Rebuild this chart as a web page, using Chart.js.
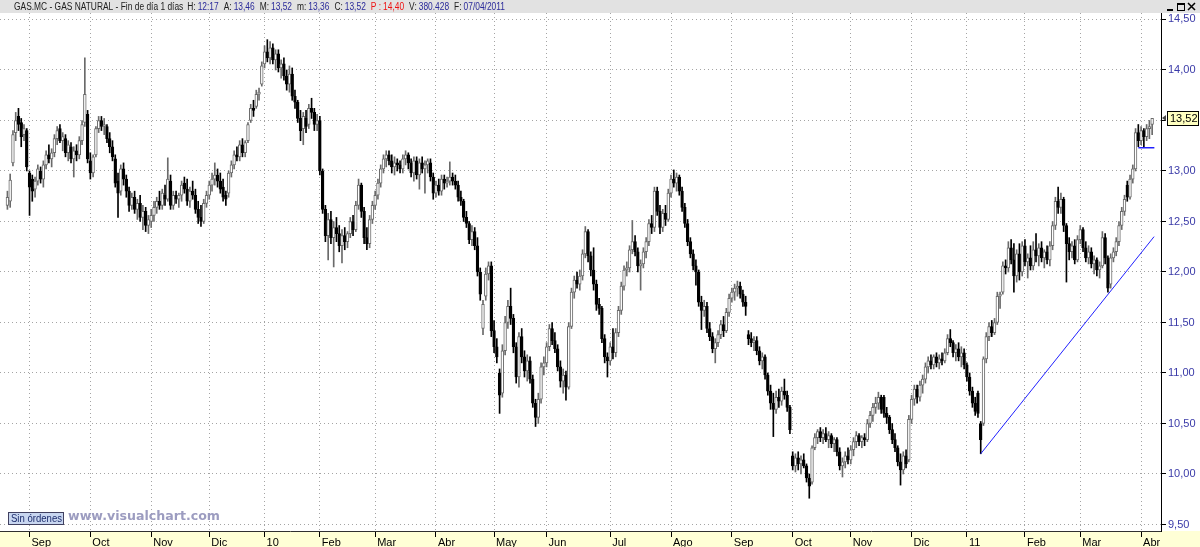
<!DOCTYPE html>
<html>
<head>
<meta charset="utf-8">
<title>GAS.MC - GAS NATURAL</title>
<script src="https://cdn.jsdelivr.net/npm/chart.js@4.4.1/dist/chart.umd.min.js"></script>
<style>
    html, body { margin: 0; padding: 0; background: #fff; }
    #wrap { width: 1200px; height: 547px; position: relative; }
</style>
</head>
<body>
<div id="wrap"><canvas id="chart"></canvas></div>
<script>
// daily candles, Aug 2009 .. Apr 2011, one month per line
const opens = [
    12.66,12.70,13.08,13.38,13.54,13.48,13.36,13.40,
    12.98,12.92,12.82,12.90,13.00,12.92,13.06,13.16,13.12,13.18,13.32,13.42,13.30,13.32,13.18,13.24,13.12,13.20,13.16,13.30,13.48,13.56,
    13.10,12.98,13.16,13.42,13.50,13.44,13.44,13.32,13.24,13.12,12.90,12.80,13.02,12.92,12.80,12.66,12.74,12.62,12.68,12.54,12.60,12.46,
    12.50,12.56,12.64,12.70,12.66,12.76,12.72,12.90,12.66,12.76,12.72,12.76,12.88,12.82,12.70,12.80,12.76,12.62,12.54,12.50,12.68,
    12.76,12.86,12.92,12.96,12.90,12.84,12.76,12.78,12.98,13.06,13.16,13.14,13.26,13.18,13.30,13.50,13.62,13.64,13.76,13.86,
    14.06,14.18,14.12,14.22,14.10,14.16,14.02,14.06,13.94,13.86,13.96,13.74,13.68,13.52,13.42,13.52,13.46,13.62,13.58,13.46,
    13.50,13.00,12.62,12.36,12.52,12.34,12.44,12.38,12.26,12.36,12.30,12.38,12.50,12.42,12.66,12.86,12.60,12.34,12.28,12.52,
    12.66,12.76,12.88,13.02,13.12,13.16,13.10,13.04,13.08,13.06,13.02,13.12,13.16,13.08,12.98,13.10,12.96,13.08,13.02,13.06,13.08,12.94,
    12.78,12.86,12.80,12.92,12.88,12.90,12.94,12.90,12.86,12.74,12.70,12.54,12.48,12.32,12.40,12.26,12.00,11.44,11.76,11.98,12.06,
    11.42,11.26,11.00,10.80,11.22,11.50,11.66,11.54,11.26,10.96,11.36,11.16,11.02,11.12,10.94,10.70,10.56,10.74,11.06,
    11.10,11.26,11.44,11.32,11.24,11.06,10.92,10.98,10.86,11.46,11.80,11.92,11.88,11.96,12.18,12.40,12.16,12.02,11.88,11.68,11.64,11.34,11.16,
    11.12,11.26,11.20,11.40,11.62,11.86,12.02,12.04,12.22,12.30,12.20,12.06,12.08,12.20,12.30,12.48,12.44,12.80,12.60,12.44,12.58,12.52,
    12.78,12.92,12.88,12.94,12.80,12.64,12.48,12.30,12.18,12.06,12.00,11.70,11.62,11.66,11.44,11.36,11.24,11.30,11.38,11.48,11.42,11.60,
    11.74,11.80,11.84,11.86,11.78,11.70,11.38,11.34,11.30,11.32,11.22,11.12,11.16,10.98,10.82,10.70,10.64,10.76,10.72,10.82,10.78,10.66,
    10.18,10.08,10.16,10.10,10.14,10.08,9.96,9.92,10.26,10.36,10.42,10.36,10.40,10.34,10.38,10.30,10.34,10.22,10.08,10.12,10.18,
    10.14,10.24,10.32,10.38,10.32,10.36,10.34,10.50,10.58,10.66,10.70,10.76,10.76,10.60,10.56,10.44,10.34,10.26,10.12,10.04,10.18,10.14,
    10.54,10.74,10.84,10.76,10.88,10.94,11.06,11.12,11.08,11.16,11.10,11.14,11.12,11.20,11.34,11.30,11.20,11.24,11.16,11.20,
    11.08,10.96,10.82,10.70,10.80,10.50,10.50,11.14,11.36,11.46,11.40,11.50,11.76,11.80,12.06,12.04,12.24,12.12,11.96,12.18,12.00,
    12.26,12.10,12.14,12.06,12.22,12.16,12.24,12.14,12.20,12.12,12.26,12.46,12.70,12.64,12.72,12.46,12.28,12.20,12.26,12.12,
    12.32,12.42,12.24,12.14,12.20,12.08,12.12,12.02,12.06,12.34,12.14,11.88,12.14,12.20,12.30,12.46,12.60,12.86,12.74,12.92,13.02,13.38,
    13.30,13.40,13.34,13.42,13.46,
]
const highs = [
    12.80,12.97,13.40,13.58,13.62,13.52,13.46,13.42,
    13.00,12.96,12.94,13.06,13.04,13.10,13.20,13.26,13.22,13.36,13.44,13.46,13.38,13.36,13.30,13.28,13.24,13.26,13.34,13.50,14.12,13.60,
    13.18,13.16,13.44,13.54,13.54,13.52,13.46,13.38,13.30,13.16,12.98,13.06,13.08,12.96,12.84,12.78,12.80,12.72,12.76,12.66,12.64,12.56,
    12.62,12.70,12.74,12.80,12.82,12.86,13.13,12.96,12.80,12.80,12.78,12.90,12.94,12.92,12.84,12.90,12.82,12.70,12.66,12.72,12.80,
    12.90,12.98,13.08,13.02,12.98,12.92,12.80,13.00,13.10,13.20,13.24,13.30,13.32,13.30,13.48,13.66,13.70,13.80,13.82,14.08,
    14.24,14.30,14.28,14.26,14.20,14.20,14.10,14.12,14.00,14.04,14.02,13.80,13.70,13.60,13.58,13.60,13.66,13.72,13.62,13.56,
    13.54,13.02,12.66,12.58,12.60,12.50,12.54,12.46,12.42,12.44,12.40,12.54,12.56,12.70,12.92,12.88,12.64,12.44,12.56,12.70,
    12.80,12.92,13.06,13.16,13.20,13.20,13.16,13.14,13.12,13.10,13.16,13.20,13.18,13.12,13.14,13.14,13.12,13.14,13.10,13.12,13.12,12.98,
    12.90,12.92,12.96,12.96,12.94,13.09,12.98,12.96,12.90,12.80,12.72,12.60,12.50,12.46,12.44,12.34,12.04,11.72,12.04,12.10,12.10,
    11.52,11.34,11.04,11.28,11.56,11.72,11.84,11.58,11.30,11.40,11.44,11.22,11.18,11.16,10.98,10.74,10.80,11.10,11.16,
    11.30,11.48,11.50,11.40,11.28,11.12,11.04,11.02,11.50,11.84,11.96,12.00,12.02,12.22,12.45,12.42,12.20,12.24,11.92,11.74,11.66,11.38,11.20,
    11.30,11.44,11.44,11.66,11.90,12.06,12.10,12.26,12.51,12.36,12.24,12.12,12.24,12.34,12.52,12.56,12.84,12.84,12.66,12.62,12.66,12.82,
    12.96,13.01,12.98,12.96,12.84,12.68,12.52,12.34,12.22,12.12,12.02,11.76,11.72,11.70,11.50,11.40,11.34,11.42,11.52,11.56,11.64,11.78,
    11.84,11.88,11.91,11.90,11.82,11.76,11.42,11.40,11.36,11.36,11.26,11.20,11.18,11.00,10.88,10.80,10.82,10.84,10.86,10.94,10.82,10.68,
    10.22,10.20,10.22,10.18,10.20,10.10,10.00,10.28,10.40,10.44,10.46,10.44,10.46,10.42,10.40,10.36,10.36,10.26,10.16,10.22,10.26,
    10.28,10.36,10.42,10.40,10.38,10.40,10.54,10.62,10.70,10.76,10.81,10.78,10.78,10.66,10.58,10.50,10.40,10.28,10.20,10.22,10.24,10.58,
    10.78,10.88,10.88,10.92,10.98,11.10,11.16,11.18,11.18,11.20,11.18,11.20,11.24,11.38,11.43,11.32,11.28,11.30,11.26,11.24,
    11.10,11.00,10.86,10.76,10.82,10.52,11.16,11.40,11.50,11.52,11.54,11.80,11.80,12.10,12.12,12.30,12.32,12.28,12.22,12.28,12.30,
    12.32,12.18,12.26,12.30,12.38,12.28,12.30,12.22,12.26,12.30,12.50,12.74,12.84,12.78,12.74,12.48,12.34,12.30,12.32,12.36,
    12.46,12.44,12.30,12.26,12.24,12.16,12.14,12.10,12.40,12.38,12.16,12.18,12.24,12.34,12.50,12.64,12.76,12.90,12.96,13.06,13.42,13.46,
    13.44,13.42,13.46,13.50,13.52,
]
const lows = [
    12.62,12.64,13.05,13.30,13.40,13.24,13.30,13.00,
    12.56,12.70,12.74,12.86,12.88,12.84,13.02,13.08,13.04,13.14,13.26,13.28,13.20,13.14,13.10,13.08,12.94,13.10,13.12,13.26,13.44,13.08,
    12.92,12.94,13.14,13.38,13.40,13.36,13.28,13.18,13.10,12.84,12.54,12.76,12.86,12.74,12.60,12.62,12.58,12.52,12.50,12.42,12.40,12.38,
    12.44,12.50,12.58,12.62,12.62,12.66,12.70,12.62,12.62,12.68,12.64,12.70,12.78,12.66,12.64,12.72,12.58,12.48,12.45,12.48,12.64,
    12.72,12.80,12.86,12.84,12.78,12.70,12.66,12.74,12.94,13.02,13.10,13.10,13.14,13.14,13.28,13.48,13.54,13.62,13.70,13.84,
    14.02,14.08,14.06,14.06,14.00,13.98,13.92,13.90,13.80,13.78,13.70,13.62,13.48,13.30,13.26,13.38,13.42,13.52,13.40,13.40,
    12.96,12.58,12.30,12.12,12.28,12.05,12.30,12.20,12.09,12.22,12.24,12.34,12.36,12.40,12.62,12.54,12.28,12.22,12.24,12.48,
    12.62,12.72,12.84,12.98,13.04,13.06,12.98,12.96,13.00,12.98,12.98,13.06,13.02,12.94,12.90,12.92,12.82,12.98,12.78,12.98,12.90,12.72,
    12.74,12.76,12.76,12.82,12.84,12.86,12.86,12.82,12.70,12.66,12.50,12.44,12.28,12.26,12.22,11.96,11.72,11.38,11.72,11.92,11.36,
    11.20,11.10,10.60,10.76,11.18,11.44,11.48,11.20,10.90,10.86,11.10,10.96,10.92,10.90,10.66,10.47,10.50,10.70,10.98,
    11.06,11.22,11.28,11.20,11.02,10.86,10.80,10.73,10.84,11.44,11.74,11.84,11.82,11.92,12.14,12.10,11.96,11.82,11.62,11.58,11.30,11.10,10.96,
    11.08,11.14,11.16,11.36,11.58,11.82,11.96,12.00,12.18,12.16,12.00,11.82,12.04,12.14,12.26,12.38,12.40,12.56,12.38,12.40,12.46,12.50,
    12.74,12.84,12.80,12.76,12.60,12.44,12.26,12.14,12.02,11.87,11.66,11.43,11.56,11.40,11.32,11.20,11.10,11.26,11.34,11.36,11.40,11.56,
    11.70,11.72,11.76,11.74,11.66,11.57,11.28,11.26,11.22,11.18,11.08,11.04,10.94,10.78,10.64,10.37,10.60,10.66,10.68,10.74,10.62,10.40,
    10.04,10.02,10.04,10.00,10.06,9.92,9.76,9.90,10.24,10.30,10.32,10.30,10.32,10.26,10.26,10.22,10.18,10.04,9.97,10.06,10.10,
    10.10,10.18,10.26,10.28,10.26,10.28,10.32,10.46,10.52,10.60,10.64,10.60,10.56,10.50,10.40,10.30,10.22,10.08,9.89,10.00,10.06,10.12,
    10.50,10.68,10.70,10.72,10.80,10.90,11.00,11.04,11.04,11.06,11.04,11.08,11.10,11.18,11.26,11.16,11.12,11.12,11.06,11.04,
    10.92,10.78,10.66,10.58,10.56,10.20,10.48,11.10,11.32,11.36,11.38,11.48,11.64,11.78,11.98,12.00,12.08,11.80,11.90,11.92,11.96,
    12.06,11.94,12.02,12.02,12.10,12.06,12.10,12.04,12.08,12.06,12.22,12.42,12.58,12.58,12.40,11.90,12.12,12.14,12.08,12.10,
    12.28,12.20,12.10,12.08,12.04,11.98,11.96,11.94,12.04,12.08,11.80,11.84,12.10,12.16,12.26,12.42,12.56,12.70,12.72,12.88,13.00,13.24,
    13.26,13.24,13.30,13.32,13.36,
]
const closes = [
    12.74,12.91,13.36,13.50,13.46,13.34,13.42,13.04,
    12.84,12.80,12.90,13.02,12.92,13.06,13.16,13.12,13.18,13.32,13.40,13.30,13.34,13.18,13.26,13.12,13.20,13.16,13.30,13.46,13.76,13.12,
    12.98,13.14,13.42,13.50,13.44,13.46,13.32,13.24,13.14,12.88,12.78,13.02,12.92,12.80,12.66,12.74,12.62,12.68,12.54,12.60,12.46,12.52,
    12.56,12.64,12.70,12.66,12.78,12.72,12.92,12.66,12.76,12.72,12.76,12.86,12.82,12.70,12.80,12.76,12.62,12.54,12.50,12.68,12.76,
    12.86,12.92,12.96,12.90,12.82,12.74,12.72,12.98,13.06,13.16,13.14,13.26,13.18,13.28,13.46,13.62,13.60,13.76,13.78,14.04,
    14.18,14.12,14.22,14.10,14.16,14.02,14.06,13.94,13.86,13.96,13.74,13.68,13.52,13.40,13.54,13.44,13.62,13.58,13.46,13.50,
    13.00,12.62,12.36,12.52,12.34,12.44,12.38,12.26,12.36,12.30,12.38,12.50,12.42,12.66,12.86,12.60,12.34,12.28,12.52,12.66,
    12.76,12.88,13.02,13.12,13.16,13.10,13.04,13.08,13.06,13.02,13.12,13.16,13.08,12.98,13.10,12.96,13.08,13.02,13.06,13.10,12.94,12.78,
    12.86,12.80,12.92,12.88,12.90,12.94,12.90,12.86,12.74,12.70,12.54,12.48,12.32,12.40,12.26,12.00,11.78,11.68,11.98,12.06,11.42,
    11.26,11.16,10.78,11.22,11.50,11.66,11.54,11.26,10.96,11.36,11.16,11.02,11.12,10.94,10.70,10.56,10.74,11.06,11.10,
    11.26,11.44,11.32,11.24,11.06,10.92,10.98,10.86,11.46,11.80,11.92,11.88,11.96,12.18,12.40,12.16,12.02,11.88,11.68,11.64,11.34,11.16,11.12,
    11.26,11.20,11.40,11.62,11.86,12.02,12.04,12.22,12.30,12.20,12.06,12.08,12.20,12.30,12.48,12.44,12.80,12.60,12.44,12.58,12.52,12.78,
    12.92,12.88,12.94,12.80,12.64,12.48,12.30,12.18,12.06,12.00,11.70,11.62,11.66,11.44,11.36,11.24,11.30,11.38,11.48,11.42,11.60,11.74,
    11.80,11.84,11.86,11.78,11.70,11.66,11.34,11.30,11.32,11.22,11.12,11.16,10.98,10.82,10.70,10.64,10.76,10.72,10.82,10.78,10.66,10.44,
    10.08,10.16,10.10,10.14,10.08,9.96,9.88,10.26,10.36,10.42,10.36,10.40,10.34,10.38,10.30,10.34,10.22,10.08,10.12,10.18,10.14,
    10.24,10.32,10.38,10.32,10.36,10.34,10.50,10.58,10.66,10.70,10.76,10.64,10.60,10.56,10.44,10.34,10.26,10.12,10.04,10.18,10.10,10.54,
    10.74,10.84,10.76,10.88,10.94,11.06,11.12,11.08,11.16,11.10,11.14,11.12,11.20,11.34,11.30,11.20,11.24,11.16,11.20,11.08,
    10.96,10.82,10.70,10.62,10.60,10.34,11.14,11.36,11.46,11.40,11.50,11.76,11.78,12.06,12.04,12.24,12.12,11.96,12.18,12.00,12.26,
    12.10,12.14,12.06,12.22,12.16,12.24,12.14,12.20,12.12,12.26,12.46,12.70,12.64,12.72,12.46,12.28,12.20,12.26,12.12,12.32,
    12.42,12.24,12.14,12.20,12.08,12.12,12.02,12.06,12.34,12.14,11.84,12.14,12.20,12.30,12.46,12.60,12.72,12.74,12.92,13.02,13.38,13.30,
    13.40,13.34,13.42,13.44,13.52,
]

// index of the first session of each month and its label
const monthStarts = [8, 30, 52, 73, 93, 113, 133, 155, 176, 195, 218, 240, 262, 284, 305, 327, 347, 368, 388, 410]
const monthLabels = ['Sep', 'Oct', 'Nov', 'Dic', '10', 'Feb', 'Mar', 'Abr', 'May', 'Jun', 'Jul', 'Ago', 'Sep', 'Oct', 'Nov', 'Dic', '11', 'Feb', 'Mar', 'Abr']
const priceTicks = [9.5, 10, 10.5, 11, 11.5, 12, 12.5, 13, 13.5, 14, 14.5]

// hand drawn lines on the chart
const trendLine = [{ x: 352, y: 10.20 }, { x: 414.7, y: 12.35 }]
const supportLine = [{ x: 409, y: 13.23 }, { x: 414.8, y: 13.23 }]

const FONT = "'Liberation Sans', Arial, sans-serif"
const last = closes.length - 1
const fmt = v => v.toFixed(2).replace('.', ',')
const isUp = i => closes[i] >= opens[i]

const chrome = {
    id: 'chrome',
    beforeDraw({ ctx, width, height, chartArea }) {
        ctx.save()
        ctx.fillStyle = '#ffffff'
        ctx.fillRect(0, 0, width, height)
        ctx.fillStyle = '#e2e2e2'
        ctx.fillRect(0, 0, width, chartArea.top)
        ctx.fillStyle = '#ffffd6'
        ctx.fillRect(0, chartArea.bottom, width, height - chartArea.bottom)
        ctx.restore()
    },
    afterDraw(chart) {
        const { ctx, chartArea, scales } = chart
        ctx.save()

        // header line, squeezed a bit like the narrow system font of the original
        const parts = [
            ['GAS.MC - GAS NATURAL - Fin de día 1 días', '#202020', 4],
            ['H:', '#202020', 2], ['12:17', '#2a2a9a', 5],
            ['A:', '#202020', 2], [fmt(opens[last]), '#2a2a9a', 5],
            ['M:', '#202020', 2], [fmt(highs[last]), '#2a2a9a', 5],
            ['m:', '#202020', 2], [fmt(lows[last]), '#2a2a9a', 5],
            ['C:', '#202020', 2], [fmt(closes[last]), '#2a2a9a', 5],
            ['P :', '#ee1111', 2], ['14,40', '#ee1111', 5],
            ['V:', '#202020', 2], ['380.428', '#2a2a9a', 5],
            ['F:', '#202020', 2], ['07/04/2011', '#2a2a9a', 0],
        ]
        ctx.font = `10px ${FONT}`
        ctx.textBaseline = 'alphabetic'
        let x = 14
        for (const [text, color, gap] of parts) {
            const w = ctx.measureText(text).width * 0.84
            ctx.fillStyle = color
            ctx.fillText(text, x, 10, w)
            x += w + gap
        }

        // window buttons
        ctx.strokeStyle = '#000'
        ctx.lineWidth = 1
        ctx.fillStyle = '#000'
        ctx.fillRect(1167, 9, 6, 2)
        ctx.strokeRect(1177.5, 3.5, 7, 7)
        ctx.fillRect(1177, 3, 8, 2)
        ctx.beginPath()
        ctx.moveTo(1188, 3); ctx.lineTo(1195, 10)
        ctx.moveTo(1195, 3); ctx.lineTo(1188, 10)
        ctx.lineWidth = 1.5
        ctx.stroke()

        // last price tag
        const py = Math.round(scales.y.getPixelForValue(closes[last]))
        ctx.fillStyle = '#444'
        ctx.beginPath()
        ctx.moveTo(chartArea.right + 1, py)
        ctx.lineTo(chartArea.right + 5, py - 3)
        ctx.lineTo(chartArea.right + 5, py + 3)
        ctx.fill()
        ctx.fillStyle = '#ffffc0'
        ctx.fillRect(1167, py - 7, 32, 15)
        ctx.strokeStyle = '#000'
        ctx.lineWidth = 1
        ctx.strokeRect(1167.5, py - 6.5, 31, 14)
        ctx.fillStyle = '#000'
        ctx.font = `11px ${FONT}`
        ctx.textBaseline = 'middle'
        ctx.fillText(fmt(closes[last]), 1170, py + 1)

        // bottom left badge and watermark
        ctx.fillStyle = '#c8d6f0'
        ctx.fillRect(8, 512, 56, 13)
        ctx.strokeStyle = '#404060'
        ctx.strokeRect(8.5, 512.5, 55, 12)
        ctx.fillStyle = '#1c2c6c'
        ctx.font = `10px ${FONT}`
        ctx.fillText('Sin órdenes', 11, 519, 51)
        ctx.fillStyle = '#9c9cc0'
        ctx.font = `bold 13px 'DejaVu Sans', ${FONT}`
        ctx.fillText('www.visualchart.com', 68, 517, 152)

        ctx.restore()
    }
}

const config = {
    type: 'bar',
    data: {
        datasets: [
            {
                label: 'bodies',
                data: opens.map((o, i) => ({ x: i, y: [o, closes[i]] })),
                backgroundColor: ({ dataIndex }) => isUp(dataIndex) ? '#ffffff' : '#000000',
                borderColor: ({ dataIndex }) => isUp(dataIndex) ? '#6a6a6a' : '#000000',
                borderWidth: 1,
                borderSkipped: false,
                minBarLength: 1,
                grouped: false,
                categoryPercentage: 1,
                barPercentage: 1,
                maxBarThickness: 3,
                order: 1,
            },
            {
                label: 'wicks',
                data: lows.map((l, i) => ({ x: i, y: [l, highs[i]] })),
                backgroundColor: ({ dataIndex }) => isUp(dataIndex) ? '#6a6a6a' : '#000000',
                borderWidth: 0,
                grouped: false,
                categoryPercentage: 1,
                barPercentage: 1,
                maxBarThickness: 1,
                order: 2,
            },
            {
                type: 'line',
                label: 'trend',
                data: trendLine,
                borderColor: '#2020ff',
                borderWidth: 1,
                pointRadius: 0,
                order: 0,
            },
            {
                type: 'line',
                label: 'support',
                data: supportLine,
                borderColor: '#2020ff',
                borderWidth: 1.5,
                pointRadius: 0,
                order: 0,
            },
        ],
    },
    options: {
        responsive: true,
        maintainAspectRatio: false,
        animation: false,
        events: [],
        layout: { padding: { top: 13 } },
        plugins: {
            legend: false,
            tooltip: false,
            title: false,
        },
        scales: {
            x: {
                type: 'linear',
                min: -2.68,
                max: 417.2,
                offset: false,
                afterBuildTicks: scale => { scale.ticks = monthStarts.map(value => ({ value })) },
                afterFit: scale => { scale.height = 16 },
                grid: { offset: false, color: '#a4a4a4', tickColor: '#000', tickLength: 6, tickBorderDash: [] },
                border: { color: '#303030', width: 1, dash: [1, 3] },
                ticks: {
                    autoSkip: false,
                    maxRotation: 0,
                    align: 'start',
                    labelOffset: 2,
                    padding: -1,
                    color: '#000',
                    font: { family: FONT, size: 11 },
                    callback: (value, index) => monthLabels[index],
                },
            },
            y: {
                position: 'right',
                min: 9.4356,
                max: 14.564,
                afterBuildTicks: scale => { scale.ticks = priceTicks.map(value => ({ value })) },
                afterFit: scale => { scale.width = 39 },
                grid: { color: '#a4a4a4', tickColor: '#000', tickLength: 5, tickBorderDash: [] },
                border: { color: '#000', width: 1, dash: [1, 3] },
                ticks: {
                    padding: 2,
                    color: '#3a3aa8',
                    font: { family: FONT, size: 11 },
                    callback: value => fmt(value),
                },
            },
        },
    },
    plugins: [chrome],
}

new Chart(document.getElementById('chart'), config)
</script>
</body>
</html>
